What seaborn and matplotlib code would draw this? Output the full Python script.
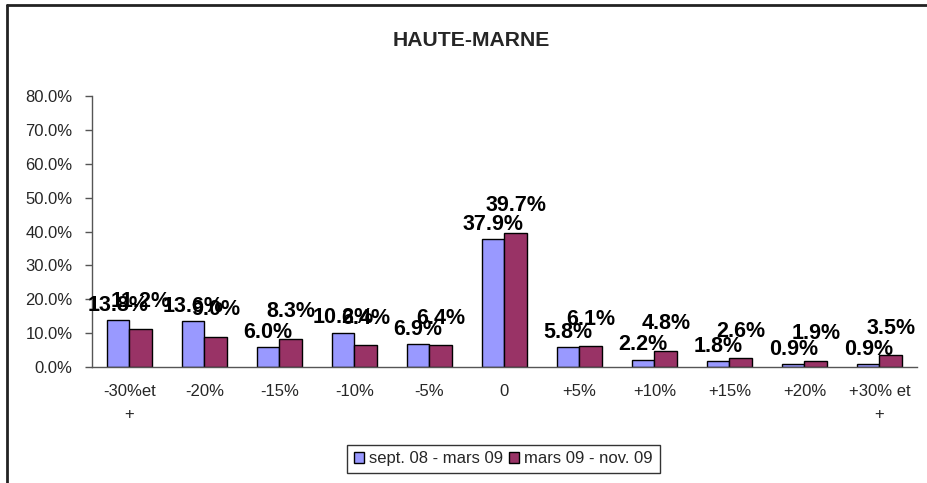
import matplotlib
matplotlib.use("Agg")
import matplotlib.pyplot as plt
import matplotlib.lines as mlines
from matplotlib.ticker import FixedLocator, FuncFormatter
import seaborn as sns
import pandas as pd

categories = ["-30%et\n+", "-20%", "-15%", "-10%", "-5%", "0",
              "+5%", "+10%", "+15%", "+20%", "+30% et\n+"]
series_names = ["sept. 08 - mars 09", "mars 09 - nov. 09"]
sept08_mars09 = [13.8, 13.6, 6.0, 10.2, 6.9, 37.9, 5.8, 2.2, 1.8, 0.9, 0.9]
mars09_nov09 = [11.2, 9.0, 8.3, 6.4, 6.4, 39.7, 6.1, 4.8, 2.6, 1.9, 3.5]
colors = ["#9999FF", "#993366"]

df = pd.DataFrame({
    "cat": categories * 2,
    "serie": [series_names[0]] * len(categories) + [series_names[1]] * len(categories),
    "val": sept08_mars09 + mars09_nov09,
})

sns.set_style("white")
plt.rcParams["font.family"] = ["Liberation Sans", "DejaVu Sans"]

fig = plt.figure(figsize=(9.27, 4.83), dpi=100)
ax = fig.add_axes([0.0992, 0.240, 0.890, 0.561])

sns.barplot(data=df, x="cat", y="val", hue="serie", order=categories,
            hue_order=series_names, palette=colors, saturation=1,
            width=0.6, gap=0, edgecolor="black", linewidth=1, ax=ax,
            legend=True)

# data labels (second series sits higher, like the original)
for cont, pad in zip(ax.containers, [3, 12]):
    ax.bar_label(cont, fmt="{:.1f}%", padding=pad, fontsize=15.5,
                 fontweight="bold", color="black")

ax.set_xlim(-0.5, len(categories) - 0.5)
ax.set_ylim(0, 80)
ax.yaxis.set_major_locator(FixedLocator(range(0, 81, 10)))
ax.yaxis.set_major_formatter(FuncFormatter(lambda v, p: f"{v:.1f}%"))
ax.set_xlabel("")
ax.set_ylabel("")

# Excel style: ticks between categories
ax.xaxis.set_minor_locator(FixedLocator([i - 0.5 for i in range(len(categories) + 1)]))
ax.tick_params(axis="x", which="major", length=0, pad=12, labelsize=12)
ax.tick_params(axis="x", which="minor", length=5, width=1, color="#555555", direction="out")
ax.tick_params(axis="y", length=5, width=1, color="#555555", direction="out",
               pad=9, labelsize=12, left=True)
for lbl in ax.get_xticklabels():
    lbl.set_linespacing(1.65)

sns.despine(ax=ax)
for s in ["left", "bottom"]:
    ax.spines[s].set_color("#555555")
    ax.spines[s].set_linewidth(1)

ax.legend_.remove()
leg = fig.legend(handles=ax.containers, labels=series_names, loc="center",
                 bbox_to_anchor=(0.543, 0.050), ncol=2, fontsize=12,
                 frameon=True, fancybox=False, handlelength=0.6,
                 handleheight=0.6, handletextpad=0.3, columnspacing=0.4,
                 borderpad=0.4)
leg.get_frame().set_edgecolor("black")
leg.get_frame().set_linewidth(1)

fig.text(0.508, 0.917, "HAUTE-MARNE", ha="center", va="center",
         fontsize=15.2, fontweight="bold")

# outer chart border (top and left visible)
fig.add_artist(mlines.Line2D([7 / 927, 1], [1 - 5 / 483, 1 - 5 / 483],
                             transform=fig.transFigure, color="#222222", lw=2))
fig.add_artist(mlines.Line2D([7 / 927, 7 / 927], [0, 1 - 5 / 483],
                             transform=fig.transFigure, color="#222222", lw=2))

fig.savefig("out.png", dpi=100)
